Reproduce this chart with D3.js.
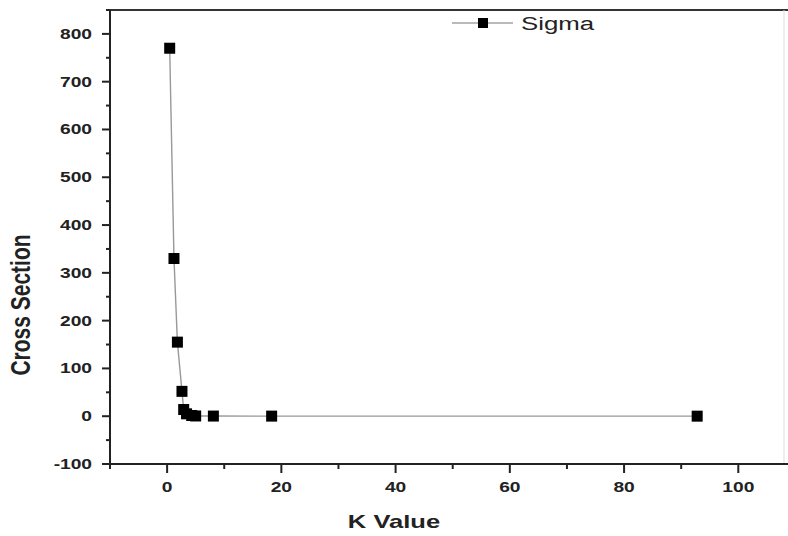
<!DOCTYPE html>
<html>
<head>
<meta charset="utf-8">
<script src="https://cdn.jsdelivr.net/npm/d3@7"></script>
<style>
  body { margin: 0; background: #fff; }
  svg { display: block; font-family: Arial, "Liberation Sans", sans-serif; }
</style>
</head>
<body>
<div id="chart"></div>
<script>
// values
var kValues = [0.45, 1.2, 1.8, 2.6, 2.9, 3.4, 4.3, 5.0, 8.1, 18.3, 92.8],
    sigma   = [770, 330, 155, 52, 14, 5, 1.5, 0.5, 0.3, 0.2, 0.1];
var xTicks = [0, 20, 40, 60, 80, 100],
    yTicks = [-100, 0, 100, 200, 300, 400, 500, 600, 700, 800];
var seriesName = "Sigma";

var W = 788, H = 536,
    m = {t:10, r:4, b:72, l:110},
    stretch = 1.37; // the picture is widened horizontally

var svg = d3.select("#chart").append("svg")
  .attr("width", W)
  .attr("height", H);

var x = d3.scaleLinear().domain([-10, 108]).range([m.l, W - m.r]),
    y = d3.scaleLinear().domain([-100, 850]).range([H - m.b, m.t]);

var data = kValues.map(function(k, i){ return {k: k, s: sigma[i]}; });

// frame: top and right faint
svg.append("line")
  .attr("x1", m.l).attr("x2", W).attr("y1", m.t).attr("y2", m.t)
  .attr("stroke", "#333").attr("stroke-width", 2);
svg.append("line")
  .attr("x1", W - m.r).attr("x2", W - m.r).attr("y1", m.t).attr("y2", H - m.b)
  .attr("stroke", "#ddd").attr("stroke-width", 1);

// x axis
var xMinor = d3.range(-10, 108, 10);
svg.append("g").selectAll("line.minor")
  .data(xMinor).enter().append("line")
  .attr("x1", function(d){ return x(d); })
  .attr("x2", function(d){ return x(d); })
  .attr("y1", y(-100))
  .attr("y2", function(d){ return y(-100) + (d % 20 === 0 ? 9 : 5); })
  .attr("stroke", "#222").attr("stroke-width", 2);
svg.append("line")
  .attr("x1", m.l - 6).attr("x2", W).attr("y1", y(-100)).attr("y2", y(-100))
  .attr("stroke", "#222").attr("stroke-width", 2);
svg.append("g").selectAll("text")
  .data(xTicks).enter().append("text")
  .attr("transform", function(d){ return "translate(" + x(d) + "," + (y(-100) + 28) + ") scale(" + stretch + ",1)"; })
  .attr("text-anchor", "middle")
  .attr("font-size", 14).attr("font-weight", "bold").attr("fill", "#222")
  .text(function(d){ return d; });

// y axis
var yMinor = d3.range(-100, 851, 50);
svg.append("g").selectAll("line")
  .data(yMinor).enter().append("line")
  .attr("x1", function(d){ return m.l - (d % 100 === 0 ? 8 : 4); })
  .attr("x2", m.l)
  .attr("y1", function(d){ return y(d); })
  .attr("y2", function(d){ return y(d); })
  .attr("stroke", "#222").attr("stroke-width", 2);
svg.append("line")
  .attr("x1", m.l).attr("x2", m.l).attr("y1", m.t).attr("y2", y(-100) + 5)
  .attr("stroke", "#222").attr("stroke-width", 2);
svg.append("g").selectAll("text")
  .data(yTicks).enter().append("text")
  .attr("transform", function(d){ return "translate(" + (m.l - 18) + "," + (y(d) + 5) + ") scale(" + stretch + ",1)"; })
  .attr("text-anchor", "end")
  .attr("font-size", 14).attr("font-weight", "bold").attr("fill", "#222")
  .text(function(d){ return d; });

// axis titles
svg.append("text")
  .attr("transform", "translate(" + 394 + "," + 528 + ") scale(1.42,1)")
  .attr("text-anchor", "middle")
  .attr("font-size", 18).attr("font-weight", "bold").attr("fill", "#222")
  .text("K Value");
svg.append("text")
  .attr("transform", "translate(" + 30 + "," + 305 + ") scale(1.35,1) rotate(-90)")
  .attr("text-anchor", "middle")
  .attr("font-size", 21).attr("font-weight", "bold").attr("fill", "#222")
  .text("Cross Section");

// series
var line = d3.line()
  .x(function(d){ return x(d.k); })
  .y(function(d){ return y(d.s); });
svg.append("path")
  .datum(data)
  .attr("d", line)
  .attr("fill", "none").attr("stroke", "#999").attr("stroke-width", 1.4);

var sq = 11;
svg.append("g").selectAll("rect")
  .data(data).enter().append("rect")
  .attr("x", function(d){ return x(d.k) - sq/2; })
  .attr("y", function(d){ return y(d.s) - sq/2; })
  .attr("width", sq).attr("height", sq)
  .attr("fill", "#000");

// legend
var lg = svg.append("g");
lg.append("line")
  .attr("x1", 452).attr("x2", 513).attr("y1", 23).attr("y2", 23)
  .attr("stroke", "#777").attr("stroke-width", 1.2);
lg.append("rect")
  .attr("x", 483 - 5).attr("y", 23 - 5).attr("width", 10).attr("height", 10)
  .attr("fill", "#000");
lg.append("text")
  .attr("transform", "translate(521,30) scale(1.36,1)")
  .attr("font-size", 19).attr("fill", "#222")
  .text(seriesName);
</script>
</body>
</html>
